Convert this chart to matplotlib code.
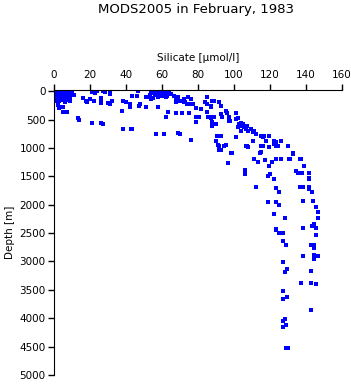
import matplotlib
matplotlib.use('Agg')
import matplotlib.pyplot as plt

plt.rcParams['font.family'] = ['DejaVu Sans']

title = 'MODS2005 in February, 1983'
xlabel = 'Silicate [µmol/l]'
ylabel = 'Depth [m]'
xticks = [0, 20, 40, 60, 80, 100, 120, 140, 160]
yticks = [0, 500, 1000, 1500, 2000, 2500, 3000, 3500, 4000, 4500, 5000]

# silicate [umol/l] and depth [m]
silicate = [
    # surface, low silicate
    1, 2, 3, 4, 5, 6, 7, 8, 9, 10,
    1, 3, 5, 7, 9, 1, 2, 4, 6, 8, 10,
    1, 3, 5, 7, 9, 11, 1, 2, 4, 6, 9,
    1, 3, 5, 8, 1, 2, 5, 7, 0.5, 3, 6, 9,
    2, 4, 3, 5, 5, 7, 13.5, 14, 21, 26, 27, 38.5, 42.5, 43.5,
    # upper layer 15-55
    16, 18, 20, 22, 26, 22, 24, 27, 28.5, 31, 32, 31, 38.5, 38, 42, 42,
    43.5, 46, 46.5, 47, 48, 51, 51, 52.5, 21, 23, 18.5, 26, 26, 31, 30,
    40, 47.5, 53.5, 54, 56,
    # 55-65 cluster
    56, 57, 58, 59, 60, 61, 62, 63, 64, 65, 57, 59, 61, 63, 60, 58, 62, 64,
    55, 54, 58, 62, 63.5, 56.5, 61, 70, 76, 69,
    # 66-110 band
    66.5, 67.5, 69, 70, 72, 73, 74.5, 76, 68, 72, 74, 76, 77,
    68, 71, 75, 79, 81.5, 79, 80.5, 79,
    85, 84, 85, 87, 87, 88, 89, 91.5, 93,
    85, 85.5, 87, 88, 89, 88, 88, 90,
    93, 93.5, 95.5, 96, 97,
    97, 98, 101, 101, 102, 103, 104, 104.5, 106, 107,
    90.5, 93, 90, 91.5, 94.5, 91.5, 101, 99, 107, 91, 93, 95.5, 102, 104,
    # 105-135, 600-1100 m
    105, 105.6, 106.7, 106.7, 107.8, 109.5, 110.6, 111.2, 112.3, 115,
    116, 116.8, 118, 119.6, 122.4, 123.5, 124.6, 126.3, 130.2, 133,
    115, 116, 106.7, 107.8, 110.6, 115, 119.6, 122.4, 123.5,
    # 1000-2500 m
    91.6, 98.3, 96.7, 111.2, 114.5, 113.4, 117.3, 121.2, 123.5, 126.3,
    130.7, 131.3, 133, 136.9, 119.6, 106.2, 106.2, 119, 120.1, 122.4,
    134.6, 135.8, 137.4, 112.3, 123.5, 125.2, 136.9, 119, 123.5, 125.2,
    122.4, 128.5, 123.5,
    137.4, 139.1, 138, 141.4, 141.9, 141.4, 138.6, 141.9, 141.9, 143.6,
    138.6, 144.1, 145.8, 146.4, 146.9, 144.7, 143.6, 138.6, 145.3, 145.3,
    143, 144.7, 144.7, 138.6, 144.7, 146.9, 144.7,
    # deep
    123.5, 125.2, 127.4, 127.4, 129, 127.4, 129.6, 128.5, 142.5, 137.4,
    143, 145.3, 127.4, 129.6, 127.4, 142.5, 128.5, 127.4, 129, 127.4,
    129, 130,
]
depth = [
    0, 0, 0, 0, 0, 0, 0, 0, 0, 0,
    20, 20, 20, 20, 20, 50, 50, 50, 50, 50, 50,
    75, 75, 75, 75, 75, 75, 100, 100, 100, 100, 100,
    125, 125, 125, 125, 150, 150, 150, 150, 175, 180, 200, 175,
    250, 280, 290, 280, 370, 370, 480, 500, 560, 570, 585, 670, 670, 670,
    120, 176, 140, 176, 140, 0, 0, 0, 20, 50, 176, 230, 176, 350, 230, 280,
    90, 90, 0, 260, 230, 100, 280, 100, 20, 40, 190, 120, 210, 35, 210,
    190, 230, 70, 35, 70,
    0, 10, 20, 0, 30, 10, 40, 20, 0, 50, 60, 50, 70, 80, 90, 100, 110, 30,
    120, 140, 280, 460, 370, 760, 760, 760, 860, 740,
    90, 140, 110, 170, 140, 190, 110, 140, 200, 200, 230, 230, 230,
    390, 390, 390, 300, 320, 460, 460, 550,
    100, 190, 230, 260, 280, 176, 176, 190, 260,
    370, 460, 470, 460, 460, 550, 620, 580,
    400, 460, 350, 390, 460,
    530, 530, 390, 490, 475, 580, 560, 610, 630, 610,
    790, 790, 880, 970, 970, 1040, 810, 1090, 970, 950, 1040, 950, 630, 700,
    580, 630, 615, 670, 705, 670, 720, 705, 757, 790,
    810, 790, 880, 790, 880, 900, 970, 880, 970, 1090,
    970, 970, 970, 985, 880, 1075, 985, 930, 970,
    1040, 1090, 1270, 1200, 1090, 1250, 1215, 1250, 1200, 1200,
    1200, 1200, 1110, 1200, 1320, 1390, 1460, 1500, 1460, 1550,
    1410, 1440, 1440, 1690, 1710, 1780, 1690, 1950, 1950, 2010,
    2160, 2235, 2430,
    1200, 1320, 1440, 1440, 1530, 1550, 1690, 1690, 1725, 1780,
    1935, 1935, 2040, 2130, 2235, 2340, 2375, 2410, 2410, 2535,
    2710, 2710, 2760, 2900, 2885, 2900, 2955,
    2445, 2500, 2500, 2640, 2710, 3010, 3130, 3185, 3170, 3380,
    3380, 3400, 3520, 3625, 3660, 3855, 4010, 4050, 4120, 4150,
    4520, 4520,
]

fig = plt.figure(figsize=(3.51, 3.84), dpi=100)
ax = fig.add_axes([54 / 351, 9 / 384, 288 / 351, 285 / 384])

ax.scatter(silicate, depth, s=5, marker='s', color='#0000ff', linewidths=0)

ax.set_xlim(0, 160)
ax.set_ylim(5000, -20)
ax.set_xticks(xticks)
ax.set_yticks(yticks)

ax.xaxis.tick_top()
ax.xaxis.set_label_position('top')
ax.spines['bottom'].set_visible(False)
ax.spines['right'].set_visible(False)
ax.tick_params(axis='x', direction='out', length=4, width=1, pad=3, labelsize=7.5)
ax.tick_params(axis='y', direction='out', length=4, width=1, pad=2, labelsize=7.5)

ax.set_xlabel(xlabel, fontsize=7.5, labelpad=7)
ax.set_ylabel(ylabel, fontsize=7.5, labelpad=3)
fig.text(196 / 351, 1 - 10 / 384, title, fontsize=9.5, ha='center', va='center')

fig.savefig('out.png', dpi=100)
